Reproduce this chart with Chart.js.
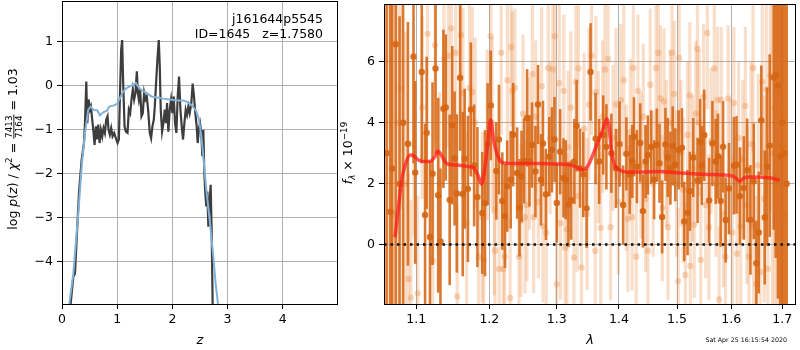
<!DOCTYPE html>
<html lang="en">
<head>
  <meta charset="UTF-8" />
  <title>j161644p5545 redshift fit</title>
  <script src="https://cdn.jsdelivr.net/npm/chart.js@4.4.0/dist/chart.umd.min.js"></script>
  <style>
    html, body { margin:0; padding:0; background:#fff; }
    #wrap { position: relative; width: 800px; height: 350px; overflow: hidden; }
    #pzChart { position: absolute; left: 0; top: 0; }
    #specChart { position: absolute; left: 340px; top: 0; }
  </style>
</head>
<body>
  <div id="wrap">
    <canvas id="pzChart" width="345" height="350"></canvas>
    <canvas id="specChart" width="460" height="350"></canvas>
  </div>

  <script>
    // ---- left panel: log p(z) and chi2 curve ----
    const zTicks = [0, 1, 2, 3, 4];
    const logTicks = [-4, -3, -2, -1, 0, 1];

    const zPz = [0.150, 0.157, 0.205, 0.235, 0.277, 0.307, 0.356, 0.398, 0.416, 0.440, 0.458, 0.482, 0.506, 0.524, 0.548,
      0.572, 0.590, 0.614, 0.633, 0.657, 0.681, 0.705, 0.729, 0.753, 0.777, 0.801, 0.825, 0.843, 0.867, 0.891,
      0.916, 0.946, 0.976, 1.006, 1.030, 1.048, 1.072, 1.090, 1.108, 1.133, 1.157, 1.187, 1.211, 1.235, 1.259,
      1.283, 1.307, 1.331, 1.356, 1.374, 1.392, 1.416, 1.440, 1.464, 1.488, 1.512, 1.536, 1.560, 1.590, 1.614,
      1.638, 1.663, 1.681, 1.705, 1.729, 1.753, 1.771, 1.789, 1.813, 1.837, 1.861, 1.885, 1.903, 1.927, 1.952,
      1.976, 2.000, 2.024, 2.048, 2.072, 2.096, 2.120, 2.145, 2.169, 2.193, 2.217, 2.241, 2.265, 2.289, 2.313,
      2.343, 2.367, 2.391, 2.415, 2.440, 2.458, 2.482, 2.500, 2.524, 2.542, 2.560, 2.578, 2.596, 2.614, 2.633,
      2.651, 2.675, 2.693, 2.711, 2.729, 2.745];
    const logPz = [-5.5, -4.95, -4.34, -4.27, -3.20, -2.44, -1.68, -1.30, -0.85, 0.10, -0.85, -0.31, -0.54, -0.47, -0.77,
      -1.07, -1.34, -0.92, -1.22, -0.88, -1.30, -1.00, -1.15, -0.96, -1.07, -0.77, -0.69, -1.00, -1.11, -0.96,
      -1.15, -1.07, -1.19, -1.30, -1.22, -0.31, 0.83, 1.04, 0.08, -0.92, -1.04, -1.07, -0.54, -0.62, -0.31,
      -0.08, -0.31, -0.16, 0.33, -0.16, -0.31, -0.08, -0.69, -0.62, -0.16, -0.31, -0.24, -0.54, -1.07, -1.19,
      -0.92, -0.77, -0.47, 0.08, 0.61, 1.04, 0.45, -0.54, -1.04, -0.85, -0.54, -0.85, -0.39, -1.04, -0.54,
      -0.31, -0.62, -0.24, -0.85, -1.07, -0.24, 0.21, -0.54, -0.92, -1.22, -0.85, -0.54, -0.66, -0.47, -0.62,
      -0.39, 0.05, -0.24, -0.62, -0.92, -1.30, -0.96, -0.85, -1.07, -1.60, -1.00, -1.98, -2.44, -2.74, -2.40,
      -3.20, -2.59, -2.25, -3.27, -4.95, -6.0];

    const zChi = [0.120, 0.133, 0.205, 0.295, 0.356, 0.416, 0.476, 0.518, 0.566, 0.639, 0.687, 0.747, 0.819, 0.855, 0.928,
      1.000, 1.048, 1.108, 1.169, 1.229, 1.289, 1.337, 1.380, 1.440, 1.530, 1.620, 1.711, 1.831, 1.952, 2.072,
      2.193, 2.283, 2.373, 2.434, 2.482, 2.524, 2.566, 2.614, 2.675, 2.735, 2.783, 2.825, 2.850];
    const chiCurve = [-5.5, -4.95, -4.27, -2.90, -1.83, -1.07, -0.54, -0.47, -0.54, -0.56, -0.67, -0.60, -0.56, -0.47, -0.45,
      -0.41, -0.28, -0.13, -0.05, -0.01, 0.03, 0.07, -0.02, -0.10, -0.16, -0.24, -0.26, -0.29, -0.31, -0.33,
      -0.33, -0.37, -0.47, -0.58, -0.77, -1.15, -1.68, -2.36, -3.04, -3.80, -4.49, -4.95, -5.5];

    // ---- right panel: spectrum ----
    const lamTicks = [1.1, 1.2, 1.3, 1.4, 1.5, 1.6, 1.7];
    const fluxTicks = [0, 2, 4, 6];
    const zeroLevel = 0;

    const specWave = [1.0620, 1.0667, 1.0690, 1.0735, 1.0785, 1.0830, 1.0892, 1.0965, 1.0987, 1.1073, 1.1117, 1.1138, 1.1182,
      1.1216, 1.1256, 1.1292, 1.1322, 1.1362, 1.1394, 1.1447, 1.1482, 1.1514, 1.1545, 1.1590, 1.1626, 1.1653,
      1.1698, 1.1739, 1.1785, 1.1831, 1.1900, 1.1938, 1.1975, 1.2020, 1.2100, 1.2138, 1.2186, 1.2225, 1.2258,
      1.2308, 1.2345, 1.2403, 1.2438, 1.2468, 1.2506, 1.2551, 1.2586, 1.2625, 1.2676, 1.2715, 1.2760, 1.2790,
      1.2835, 1.2887, 1.2927, 1.2967, 1.3002, 1.3054, 1.3106, 1.3141, 1.3183, 1.3225, 1.3277, 1.3312, 1.3366,
      1.3418, 1.3471, 1.3535, 1.3615, 1.3674, 1.3740, 1.3792, 1.3874, 1.3950, 1.4010, 1.4069, 1.4124, 1.4180,
      1.4224, 1.4252, 1.4302, 1.4358, 1.4404, 1.4450, 1.4489, 1.4546, 1.4597, 1.4644, 1.4691, 1.4736, 1.4795,
      1.4835, 1.4883, 1.4923, 1.4970, 1.5029, 1.5088, 1.5130, 1.5189, 1.5231, 1.5293, 1.5371, 1.5420, 1.5450,
      1.5493, 1.5584, 1.5645, 1.5706, 1.5750, 1.5799, 1.5844, 1.5893, 1.5956, 1.6050, 1.6100, 1.6164, 1.6241,
      1.6305, 1.6369, 1.6434, 1.6485, 1.6531, 1.6582, 1.6649, 1.6694, 1.6748, 1.6828, 1.6868, 1.6914, 1.6961,
      1.7000, 1.7045, 1.7090];
    const specFlux = [3.00, 1.08, 2.50, 6.58, 2.00, 4.00, 3.31, 6.17, 2.37, 5.67, 0.97, 3.67, 0.25,
      2.33, 5.78, 1.62, 0.10, 4.46, 4.50, 1.47, 3.92, 2.83, 1.68, 5.48, 1.66, 2.82,
      1.83, 4.44, 2.60, 1.56, 1.04, 1.36, 3.30, 4.57, 2.42, 3.45, 1.43, 0.94, 1.92,
      2.13, 3.61, 2.35, 1.21, 2.24, 2.75, 4.16, 2.75, 3.27, 2.40, 4.60, 2.13, 3.32,
      1.65, 2.89, 3.11, 3.45, 1.37, 3.05, 2.19, 2.13, 1.32, 1.46, 2.73, 3.90, 2.51,
      2.30, 1.19, 5.67, 3.48, 2.73, 3.60, 3.21, 3.00, 2.50, 3.30, 1.30, 2.98, 2.30,
      2.73, 3.54, 2.56, 3.34, 1.10, 2.73, 2.94, 3.21, 2.13, 3.27, 2.67, 0.91, 3.29,
      2.86, 2.51, 3.24, 2.62, 3.11, 3.18, 0.76, 1.05, 1.75, 2.86, 2.11, 3.38, 2.60,
      3.59, 1.45, 3.32, 2.73, 2.90, 1.43, 3.21, 0.81, 1.84, 2.59, 2.62, 1.59, 1.86,
      2.44, 0.81, 2.08, -0.61, 0.40, 4.08, 0.89, 2.56, 3.25, 5.49, 5.56, 5.22, 2.89,
      4.00, 3.00, 2.00];
    const specErr = [9, 9, 9, 9, 5.5, 6, 4, 3.5, 3.0, 3.0, 3.0, 2.5, 2.5,
      3.0, 2.8, 3.2, 2.4, 2.6, 2.4, 2.8, 2.6, 2.2, 2.6, 2.4, 2.7, 2.3,
      2.4, 2.2, 2.0, 2.3, 2.0, 2.4, 2.0, 1.8, 1.6, 1.8, 1.6, 1.7, 1.5,
      1.6, 1.7, 1.5, 1.6, 1.5, 1.4, 1.6, 1.5, 1.4, 1.5, 1.3, 1.5, 1.4,
      1.5, 1.3, 1.4, 1.4, 1.3, 1.4, 1.3, 1.3, 1.4, 1.3, 1.4, 1.5, 1.3,
      1.4, 1.3, 1.6, 1.5, 1.4, 1.3, 1.4, 1.3, 1.3, 1.4, 1.3, 1.2, 1.3,
      1.2, 1.3, 1.2, 1.3, 1.2, 1.2, 1.3, 1.2, 1.3, 1.2, 1.3, 1.2, 1.2,
      1.3, 1.2, 1.3, 1.2, 1.3, 1.3, 1.3, 1.4, 1.3, 1.3, 1.4, 1.4, 1.3,
      1.5, 1.4, 1.4, 1.4, 1.4, 1.5, 1.5, 1.4, 1.5, 1.6, 1.6, 1.6, 1.7,
      1.7, 1.8, 1.9, 1.4, 2.0, 1.8, 2.2, 2.6, 3.0, 5, 6, 7, 9,
      10, 10, 10];

    const lightWave = [1.063, 1.070, 1.076, 1.080, 1.086, 1.090, 1.093, 1.097, 1.102, 1.108, 1.115, 1.122, 1.125, 1.131,
      1.137, 1.143, 1.147, 1.153, 1.155, 1.160, 1.163, 1.168, 1.172, 1.176, 1.180, 1.185, 1.190, 1.192,
      1.197, 1.202, 1.204, 1.207, 1.208, 1.214, 1.217, 1.220, 1.222, 1.226, 1.230, 1.2315, 1.233, 1.237,
      1.243, 1.246, 1.249, 1.252, 1.255, 1.259, 1.263, 1.265, 1.268, 1.272, 1.277, 1.279, 1.284, 1.287,
      1.290, 1.294, 1.297, 1.300, 1.304, 1.306, 1.311, 1.313, 1.316, 1.318, 1.322, 1.327, 1.330, 1.332,
      1.334, 1.339, 1.343, 1.348, 1.351, 1.355, 1.361, 1.362, 1.366, 1.370, 1.373, 1.377, 1.382, 1.386,
      1.390, 1.395, 1.399, 1.403, 1.408, 1.412, 1.415, 1.419, 1.422, 1.424, 1.429, 1.432, 1.437, 1.441,
      1.445, 1.449, 1.453, 1.458, 1.463, 1.467, 1.471, 1.474, 1.477, 1.481, 1.484, 1.488, 1.491, 1.495,
      1.499, 1.502, 1.504, 1.507, 1.511, 1.515, 1.519, 1.523, 1.524, 1.528, 1.531, 1.534, 1.537, 1.540,
      1.543, 1.548, 1.552, 1.555, 1.558, 1.562, 1.568, 1.571, 1.574, 1.577, 1.581, 1.585, 1.589, 1.594,
      1.598, 1.602, 1.605, 1.611, 1.614, 1.618, 1.622, 1.627, 1.630, 1.634, 1.638, 1.642, 1.643, 1.648,
      1.652, 1.656, 1.660, 1.664, 1.668, 1.671, 1.676, 1.680, 1.685, 1.690, 1.695, 1.700, 1.705];
    const lightFlux = [3.0, 1.0, 4.0, 5.13, 2.0, -1.13, -1.74, 3.3, -1.6, 4.5, 6.92, -0.54, 6.55, 2.0,
      6.1, 6.2, 7.1, 6.3, -1.7, 6.88, 4.98, 0.7, 5.15, 5.0, 4.0, -0.4, 0.9, -0.5,
      3.6, 6.84, 4.0, 1.13, -0.2, -0.8, 6.3, -0.8, -0.4, 5.4, -1.75, 6.49, 5.05, 5.15,
      -0.4, 0.78, 4.3, 0.9, 1.3, 3.0, 5.6, 0.9, 4.2, 1.4, 5.2, 0.6, 0.4, 5.8,
      3.5, 5.75, 6.84, -1.3, 5.3, 0.7, 5.05, -0.1, 0.5, 3.2, 4.5, -0.42, 5.35, 1.6,
      5.78, -0.75, 3.8, 1.0, 4.6, 6.2, -0.2, 5.0, 3.2, 0.55, 4.2, 5.75, 6.1, 0.57,
      3.5, 4.6, 1.4, 4.75, 5.4, 2.2, 0.85, 3.7, 0.9, 5.8, -0.4, 5.05, 2.6, 4.2,
      1.5, -0.2, 5.25, 2.0, 5.8, 6.3, 4.8, 1.2, 4.7, 3.0, 0.57, 4.0, 6.3, 4.95,
      2.0, -1.2, 6.13, 3.0, 1.8, -1.0, 3.6, 4.9, -0.7, 2.5, 0.65, 4.3, 6.43, 4.0,
      -0.5, 4.85, 1.3, 6.95, 0.57, 3.4, 5.78, 2.0, 4.75, -1.8, 4.75, 1.0, -0.4, 4.8,
      2.4, 0.4, 4.65, -0.3, 3.5, 0.6, 2.8, 4.55, 1.3, -0.4, 3.3, 5.8, 0.6, -1.3,
      2.6, -0.9, 5.35, 1.5, 5.1, -0.8, 5.55, 3.0, 4.5, 2.0, 5.0, 3.2, 1.0];
    const lightErr = [9, 9, 8, 4, 5, 3.5, 3.2, 3.0, 3.2, 3.0, 3.2, 3.0, 3.2, 3.0,
      3.0, 3.0, 3.0, 3.0, 3.0, 3.0, 2.8, 3.0, 2.8, 2.8, 2.8, 2.6, 2.8, 2.7,
      2.8, 2.8, 2.8, 2.8, 2.7, 2.6, 2.7, 2.6, 2.6, 2.6, 2.6, 2.6, 2.6, 2.6,
      2.6, 2.5, 2.6, 2.5, 2.5, 2.5, 2.6, 2.5, 2.5, 2.5, 2.6, 2.5, 2.5, 2.6,
      2.5, 2.6, 2.6, 2.5, 2.6, 2.5, 2.5, 2.5, 2.5, 2.5, 2.5, 2.5, 2.5, 2.5,
      2.6, 2.5, 2.5, 2.5, 2.5, 2.6, 2.5, 2.5, 2.5, 2.5, 2.5, 2.6, 2.6, 2.4,
      2.4, 2.5, 2.4, 2.5, 2.5, 2.4, 2.4, 2.4, 2.4, 2.5, 2.4, 2.5, 2.4, 2.4,
      2.4, 2.4, 2.5, 2.4, 2.5, 2.5, 2.4, 2.4, 2.4, 2.4, 2.4, 2.4, 2.5, 2.4,
      2.4, 2.4, 2.5, 2.4, 2.4, 2.4, 2.4, 2.4, 2.4, 2.4, 2.4, 2.4, 2.5, 2.4,
      2.4, 2.4, 2.4, 2.5, 2.4, 2.4, 2.5, 2.4, 2.4, 2.4, 2.4, 2.4, 2.4, 2.4,
      2.4, 2.5, 2.5, 2.5, 2.5, 2.6, 2.6, 2.6, 2.6, 2.7, 2.7, 2.8, 2.8, 2.9,
      3.0, 3.0, 3.2, 3.4, 3.5, 3.8, 4.5, 8, 9, 9, 9, 9, 9];

    const modelWave = [1.0727, 1.0770, 1.0810, 1.0858, 1.0920, 1.0965, 1.1030, 1.1095, 1.1180, 1.1248, 1.1290, 1.1334,
      1.1400, 1.1490, 1.1600, 1.1710, 1.1780, 1.1845, 1.1890, 1.1935, 1.1980, 1.2017, 1.2065, 1.2135, 1.2210,
      1.2455, 1.2725, 1.2985, 1.3190, 1.3295, 1.3405, 1.3485, 1.3570, 1.3655, 1.3730, 1.3800, 1.3840, 1.3870,
      1.3925, 1.4010, 1.4120, 1.4400, 1.4690, 1.4985, 1.5280, 1.5460, 1.5680, 1.5980, 1.6070, 1.6160, 1.6245,
      1.6335, 1.6575, 1.6815, 1.6950];
    const modelFlux = [0.24, 1.21, 2.08, 2.62, 2.94, 2.92, 2.78, 2.73, 2.73, 2.89, 3.07, 2.94,
      2.67, 2.62, 2.60, 2.56, 2.51, 2.24, 1.99, 2.51, 3.38, 4.10, 3.38, 2.83, 2.68,
      2.66, 2.66, 2.65, 2.62, 2.56, 2.46, 2.56, 2.94, 3.38, 3.75, 4.13, 3.81, 3.16,
      2.62, 2.46, 2.38, 2.38, 2.40, 2.36, 2.33, 2.31, 2.30, 2.27, 2.21, 2.08, 2.19,
      2.22, 2.21, 2.17, 2.11];

    const pts = (xs, ys) => xs.map((x, i) => ({ x: x, y: ys[i] }));
    const minus = v => (v < 0 ? '\u2212' + Math.abs(v) : String(v));

    const FONT = "'DejaVu Sans', sans-serif";
    const tickFont = { family: FONT, size: 12.5 };
    const gridOpts = { color: '#b0b0b0', lineWidth: 1, tickColor: '#000', tickLength: 5 };

    function fixedTicks(list) {
      return s => { s.ticks = list.map(v => ({ value: v })); };
    }
    // fixed axis box, and no extra padding for edge labels
    function fitBox(size) {
      return s => {
        if (s.isHorizontal()) s.height = size; else s.width = size;
        s.paddingTop = 0; s.paddingBottom = 0; s.paddingLeft = 0; s.paddingRight = 0;
      };
    }

    // draws rotated text made of runs, a run can be a fraction
    function drawRotated(ctx, x, yc, parts) {
      ctx.save();
      ctx.translate(x, yc);
      ctx.rotate(-Math.PI / 2);
      ctx.fillStyle = '#000';
      ctx.textBaseline = 'alphabetic';
      let total = 0;
      parts.forEach(p => {
        ctx.font = p.font;
        p.w = p.frac
          ? Math.max(ctx.measureText(p.frac[0]).width, ctx.measureText(p.frac[1]).width) + 2
          : ctx.measureText(p.t).width;
        total += p.w;
      });
      let cur = -total / 2;
      parts.forEach(p => {
        ctx.font = p.font;
        if (p.frac) {
          ctx.textAlign = 'center';
          ctx.fillText(p.frac[0], cur + p.w / 2, -5);
          ctx.fillText(p.frac[1], cur + p.w / 2, 4.5);
          ctx.fillRect(cur, -3.6, p.w, 0.9);
          ctx.textAlign = 'left';
        } else {
          ctx.textAlign = 'left';
          ctx.fillText(p.t, cur, p.dy || 0);
        }
        cur += p.w;
      });
      ctx.restore();
    }

    const framePlugin = {
      id: 'frame',
      afterDraw(chart) {
        const a = chart.chartArea, ctx = chart.ctx;
        ctx.save();
        ctx.strokeStyle = '#000';
        ctx.lineWidth = 1;
        ctx.strokeRect(Math.round(a.left) + 0.5, Math.round(a.top) + 0.5,
          Math.round(a.right - a.left) - 1, Math.round(a.bottom - a.top));
        ctx.restore();
      }
    };

    const errorBarPlugin = {
      id: 'errorBars',
      beforeDatasetDraw(chart, args) {
        const ds = chart.data.datasets[args.index];
        if (!ds.errors) return;
        const ctx = chart.ctx, a = chart.chartArea;
        const xs = chart.scales.x, ys = chart.scales.y;
        ctx.save();
        ctx.beginPath();
        ctx.rect(a.left, a.top, a.right - a.left, a.bottom - a.top);
        ctx.clip();
        ctx.strokeStyle = ds.barColor;
        ctx.lineWidth = ds.barWidth;
        ds.data.forEach((p, i) => {
          const px = xs.getPixelForValue(p.x);
          ctx.beginPath();
          ctx.moveTo(px, ys.getPixelForValue(p.y - ds.errors[i]));
          ctx.lineTo(px, ys.getPixelForValue(p.y + ds.errors[i]));
          ctx.stroke();
        });
        ctx.restore();
      }
    };

    // ---- left chart ----
    new Chart(document.getElementById('pzChart'), {
      type: 'scatter',
      data: {
        datasets: [
          { data: pts(zChi, chiCurve), showLine: true, borderColor: '#80b1d9', borderWidth: 2, pointRadius: 0 },
          { data: pts(zPz, logPz), showLine: true, borderColor: '#3d3d3d', borderWidth: 2.2, pointRadius: 0 }
        ]
      },
      options: {
        responsive: false,
        animation: false,
        devicePixelRatio: 1,
        layout: { padding: { left: 0, right: 7, top: 1, bottom: 0 } },
        plugins: { legend: { display: false }, tooltip: { enabled: false } },
        scales: {
          x: {
            type: 'linear', min: 0, max: 5,
            afterBuildTicks: fixedTicks(zTicks),
            afterFit: fitBox(46),
            grid: gridOpts, border: { display: false },
            ticks: { font: tickFont, color: '#000', padding: 3, maxRotation: 0, callback: v => minus(v) },
            title: { display: true, text: 'z', font: { family: FONT, size: 13, style: 'italic' }, color: '#000', padding: { top: 0, bottom: 2 } }
          },
          y: {
            type: 'linear', min: -4.96, max: 1.93,
            afterBuildTicks: fixedTicks(logTicks),
            afterFit: fitBox(62),
            grid: gridOpts, border: { display: false },
            ticks: { font: tickFont, color: '#000', padding: 4, callback: v => minus(v) }
          }
        }
      },
      plugins: [framePlugin, {
        id: 'pzText',
        afterDraw(chart) {
          const ctx = chart.ctx;
          ctx.save();
          ctx.fillStyle = '#000';
          ctx.font = "12.5px " + FONT;
          ctx.textAlign = 'right';
          ctx.textBaseline = 'middle';
          ctx.fillText('j161644p5545', 323, 20);
          ctx.fillText('ID=1645   z=1.7580', 323, 35);
          ctx.restore();
          const n = "12.5px " + FONT, it = "italic 12.5px " + FONT, sm = "8.8px " + FONT;
          drawRotated(ctx, 17, 149, [
            { t: 'log ', font: n }, { t: 'p', font: it }, { t: '(', font: n }, { t: 'z', font: it },
            { t: ') / ', font: n }, { t: '\u03c7', font: it }, { t: '2', font: sm, dy: -5 },
            { t: ' = ', font: n }, { frac: ['7413', '7164'], font: sm }, { t: ' = 1.03', font: n }
          ]);
        }
      }]
    });

    // ---- right chart ----
    new Chart(document.getElementById('specChart'), {
      type: 'scatter',
      data: {
        datasets: [
          { data: pts(modelWave, modelFlux), showLine: true, borderColor: 'rgba(255,25,25,0.72)', borderWidth: 3.5,
            pointRadius: 0, cubicInterpolationMode: 'monotone' },
          { data: pts(specWave, specFlux), errors: specErr, barColor: 'rgba(214,102,20,0.88)', barWidth: 2.6,
            pointRadius: 3.2, pointBorderWidth: 0, backgroundColor: 'rgba(214,102,20,0.92)', borderColor: 'rgba(0,0,0,0)' },
          { data: pts(lightWave, lightFlux), errors: lightErr, barColor: 'rgba(232,128,50,0.26)', barWidth: 3.2,
            pointRadius: 3.2, pointBorderWidth: 0, backgroundColor: 'rgba(232,128,50,0.3)', borderColor: 'rgba(0,0,0,0)' }
        ]
      },
      options: {
        responsive: false,
        animation: false,
        devicePixelRatio: 1,
        layout: { padding: { left: 0, right: 1, top: 1, bottom: 0 } },
        plugins: { legend: { display: false }, tooltip: { enabled: false } },
        scales: {
          x: {
            type: 'logarithmic', min: 1.0587, max: 1.728,
            afterBuildTicks: fixedTicks(lamTicks),
            afterFit: fitBox(46),
            grid: gridOpts, border: { display: false },
            ticks: { font: tickFont, color: '#000', padding: 3, maxRotation: 0, autoSkip: false, callback: v => Number(v).toFixed(1) },
            title: { display: true, text: '\u03bb', font: { family: FONT, size: 13, style: 'italic' }, color: '#000', padding: { top: 0, bottom: 2 } }
          },
          y: {
            type: 'linear', min: -1.95, max: 7.9,
            afterBuildTicks: fixedTicks(fluxTicks),
            afterFit: fitBox(44),
            grid: gridOpts, border: { display: false },
            ticks: { font: tickFont, color: '#000', padding: 4, callback: v => minus(v) }
          }
        }
      },
      plugins: [errorBarPlugin, framePlugin, {
        id: 'specText',
        afterDatasetsDraw(chart) {
          const ctx = chart.ctx, a = chart.chartArea;
          const y0 = chart.scales.y.getPixelForValue(zeroLevel);
          ctx.save();
          ctx.strokeStyle = '#111';
          ctx.lineWidth = 2.5;
          ctx.setLineDash([2.5, 4]);
          ctx.beginPath();
          ctx.moveTo(a.left, y0);
          ctx.lineTo(a.right, y0);
          ctx.stroke();
          ctx.restore();
        },
        afterDraw(chart) {
          const ctx = chart.ctx;
          const n = "12.5px " + FONT, it = "italic 12.5px " + FONT, sm = "8.8px " + FONT, smi = "italic 8.8px " + FONT;
          drawRotated(ctx, 12, 153, [
            { t: 'f', font: it }, { t: '\u03bb', font: smi, dy: 3 }, { t: ' \u00d7 10', font: n },
            { t: '\u221219', font: sm, dy: -5.5 }
          ]);
          ctx.save();
          ctx.fillStyle = '#000';
          ctx.font = "6.3px " + FONT;
          ctx.textAlign = 'right';
          ctx.textBaseline = 'middle';
          ctx.fillText('Sat Apr 25 16:15:54 2020', 447, 340);
          ctx.restore();
        }
      }]
    });
  </script>
</body>
</html>
